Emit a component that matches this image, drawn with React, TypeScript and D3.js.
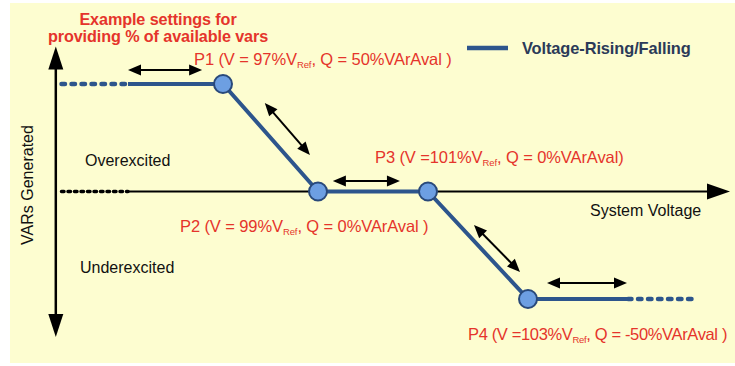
import React from "react";
import * as d3 from "d3";

// ---- data ----
const pointNames = ["P1", "P2", "P3", "P4"];
const voltagePct = [97, 99, 101, 103];
const varsPct = [50, 0, 0, -50];
const labelHead = ["P1 (V = 97%V", "P2 (V = 99%V", "P3 (V =101%V", "P4 (V =103%V"];
const labelTail = [", Q = 50%VArAval )", ", Q = 0%VArAval )", ", Q = 0%VArAval)", ", Q = -50%VArAval )"];
const labelOffset = [[-29, -19], [-138, 40], [-53, -29], [-60, 41]];
const labelSpacing = [-0.1, -0.1, -0.1, -0.35];
const leftExtensionV = [93.6, 95.0];
const rightExtensionV = [105.0, 106.4];
const xAxisV = [93.48, 107.04];
const yAxisQ = [-67.7, 67.5];
const xAxisDottedV = [93.6, 95.0];
// double-headed annotation arrows [v1, q1, v2, q2]
const moveArrows = [
  [95.0, 56.5, 96.56, 56.5],
  [97.88, 41.2, 98.83, 17.0],
  [99.27, 4.9, 100.49, 4.9],
  [101.92, -15.6, 102.84, -37.4],
  [103.38, -42.6, 104.98, -42.6],
];
const titleLines = ["Example settings for", "providing % of available vars"];
const legendLabel = "Voltage-Rising/Falling";

const W = 735, H = 366;
const x = d3.scaleLinear().domain(voltagePct).range([223, 318, 428, 528]);
const y = d3.scaleLinear().domain([-50, 50]).range([299, 84]);

const LINE = "#2d558c";
const RED = "#e5342b";
const FONT = "'Liberation Sans', Arial, sans-serif";

function head(tx: number, ty: number, dx: number, dy: number, len: number, wid: number) {
  const n = Math.hypot(dx, dy);
  const ux = dx / n, uy = dy / n;
  const bx = tx - ux * len, by = ty - uy * len;
  const px = -uy * wid / 2, py = ux * wid / 2;
  return `${tx},${ty} ${bx + px},${by + py} ${bx - px},${by - py}`;
}

export default function App() {
  const line = d3.line<[number, number]>().x(d => x(d[0])).y(d => y(d[1]));
  const pts: [number, number][] = voltagePct.map((v, i) => [v, varsPct[i]]);
  const solid = line([[leftExtensionV[1], varsPct[0]], ...pts, [rightExtensionV[0], varsPct[3]]]) as string;
  const leftDash = line([[leftExtensionV[0], varsPct[0]], [leftExtensionV[1], varsPct[0]]]) as string;
  const rightDash = line([[rightExtensionV[0], varsPct[3]], [rightExtensionV[1], varsPct[3]]]) as string;

  const ax0 = x(xAxisV[0]), ax1 = x(xAxisV[1]), y0 = y(0);
  const ayTop = y(yAxisQ[1]), ayBot = y(yAxisQ[0]);

  return (
    <svg width={W} height={H} style={{ position: "absolute", left: 0, top: 0 }} fontFamily={FONT}>
      <rect x={0} y={0} width={W} height={H} fill="#ffffff" />
      <rect x={10} y={3} width={W - 10} height={360} fill="#fdfdd0" />

      {/* title */}
      {titleLines.map((t, i) => (
        <text key={t} x={158} y={25 + i * 17} textAnchor="middle" fill={RED} fontWeight="bold" fontSize={16.2} letterSpacing={-0.1}>{t}</text>
      ))}

      {/* y axis */}
      <line x1={ax0} x2={ax0} y1={ayTop + 18} y2={ayBot - 18} stroke="#000" strokeWidth={2.5} />
      <polygon points={head(ax0, ayTop, 0, -1, 23, 15)} fill="#000" />
      <polygon points={head(ax0, ayBot, 0, 1, 23, 15)} fill="#000" />

      {/* x axis */}
      <line x1={x(xAxisDottedV[0])} x2={x(xAxisDottedV[1])} y1={y0} y2={y0} stroke="#000" strokeWidth={3.5} strokeDasharray="2.5 4" strokeLinecap="round" />
      <line x1={x(xAxisDottedV[1])} x2={ax1 - 18} y1={y0} y2={y0} stroke="#000" strokeWidth={2.2} />
      <polygon points={head(ax1, y0, 1, 0, 23, 16)} fill="#000" />

      {/* curve */}
      <path d={leftDash} fill="none" stroke={LINE} strokeWidth={4.5} strokeDasharray="3.5 6.5" strokeLinecap="round" />
      <path d={rightDash} fill="none" stroke={LINE} strokeWidth={4.5} strokeDasharray="3.5 6.5" strokeLinecap="round" />
      <path d={solid} fill="none" stroke={LINE} strokeWidth={4} strokeLinejoin="round" />

      {/* movement arrows */}
      {moveArrows.map((a, i) => {
        const x1 = x(a[0]), y1 = y(a[1]), x2 = x(a[2]), y2 = y(a[3]);
        const dx = x2 - x1, dy = y2 - y1, n = Math.hypot(dx, dy);
        const ux = dx / n, uy = dy / n;
        return (
          <g key={i}>
            <line x1={x1 + ux * 8} y1={y1 + uy * 8} x2={x2 - ux * 8} y2={y2 - uy * 8} stroke="#000" strokeWidth={2} />
            <polygon points={head(x1, y1, -dx, -dy, 13, 11)} fill="#000" />
            <polygon points={head(x2, y2, dx, dy, 13, 11)} fill="#000" />
          </g>
        );
      })}

      {/* points */}
      {pts.map((p, i) => (
        <circle key={pointNames[i]} cx={x(p[0])} cy={y(p[1])} r={9} fill="#6d9fe2" stroke="#29497a" strokeWidth={2} />
      ))}

      {/* point labels */}
      {pts.map((p, i) => (
        <text key={"l" + i} x={x(p[0]) + labelOffset[i][0]} y={y(p[1]) + labelOffset[i][1]} fill={RED} fontSize={16.5} letterSpacing={labelSpacing[i]}>
          {labelHead[i]}
          <tspan fontSize={9.5} dy={3}>Ref</tspan>
          <tspan dy={-3}>{labelTail[i]}</tspan>
        </text>
      ))}

      {/* region labels */}
      <text x={85} y={166} fontSize={16} fill="#111">Overexcited</text>
      <text x={80} y={273} fontSize={16} fill="#111">Underexcited</text>
      <text x={590} y={216} fontSize={16} fill="#111">System Voltage</text>
      <text transform="translate(33,185) rotate(-90)" textAnchor="middle" fontSize={16} fill="#111">VARs Generated</text>

      {/* legend */}
      <line x1={467} x2={508} y1={48} y2={48} stroke={LINE} strokeWidth={4.5} />
      <text x={522} y={54} fontSize={16.4} fontWeight="bold" fill="#2b3a58" letterSpacing={-0.1}>{legendLabel}</text>
    </svg>
  );
}
